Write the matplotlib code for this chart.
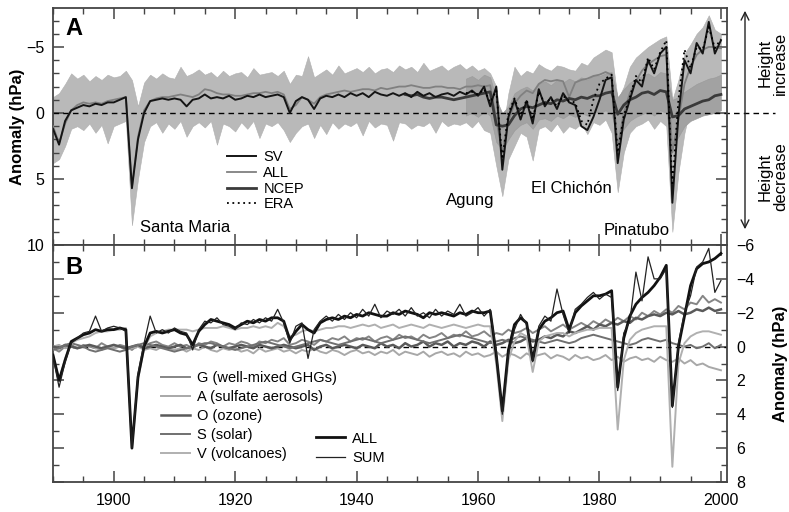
import numpy as np
import matplotlib
matplotlib.use('Agg')
import matplotlib.pyplot as plt
from matplotlib.ticker import MultipleLocator
from matplotlib.patches import FancyArrowPatch

plt.rcParams['font.family'] = ['Liberation Sans', 'DejaVu Sans']

# ---------------- data ----------------
years = np.arange(1890, 2001)
ncep_years = np.arange(1948, 2001)
era_years = np.arange(1958, 2001)

# Panel A
all_a = [1.0, 2.3, 0.8, -0.2, -0.6, -0.8, -0.7, -0.8, -0.7, -0.9,
         -1.0, -1.1, -1.2, 5.6, 1.8, -0.2, -0.9, -1.1, -1.2, -1.2,
         -1.3, -1.4, -1.3, -1.2, -1.4, -1.8, -1.7, -1.5, -1.4, -1.4,
         -1.3, -1.3, -1.4, -1.5, -1.5, -1.6, -1.5, -1.6, -1.4, -0.3,
         -0.6, -1.2, -1.0, -0.7, -1.2, -1.4, -1.5, -1.6, -1.7, -1.6,
         -1.7, -1.8, -1.8, -1.7, -1.9, -1.8, -1.9, -2.0, -2.0, -2.1,
         -2.0, -1.9, -1.9, -2.0, -2.0, -1.9, -1.9, -1.8, -2.0, -2.0,
         -2.1, -2.0, -2.1, 0.5, 3.0, 0.6, -0.7, -1.3, -1.7, -1.5,
         -2.2, -2.5, -2.4, -2.5, -2.4, -1.2, -2.3, -2.5, -2.6, -2.8,
         -2.9, -3.1, -2.9, 2.6, 0.0, -1.5, -2.4, -3.2, -3.7, -4.0,
         -4.3, -4.4, 3.0, 0.5, -2.2, -3.5, -4.4, -4.8, -5.0, -5.0,
         -4.9]
sv_a = [1.2, 2.4, 0.6, -0.2, -0.4, -0.6, -0.5, -0.7, -0.6, -0.8,
        -0.8, -1.0, -1.2, 5.7, 2.0, 0.0, -0.9, -1.0, -1.1, -1.0,
        -1.1, -1.0, -0.5, -1.0, -1.1, -1.4, -1.1, -1.2, -1.1, -1.3,
        -1.0, -1.1, -1.3, -1.2, -1.4, -1.2, -1.3, -1.4, -1.2, 0.0,
        -0.9, -1.2, -1.0, -0.3, -1.1, -1.3, -1.2, -1.4, -1.2, -1.5,
        -1.3, -1.5, -1.2, -1.6, -1.4, -1.3, -1.5, -1.3, -1.5, -1.2,
        -1.6, -1.3, -1.5, -1.2, -1.4, -1.5, -1.3, -1.6, -1.4, -1.7,
        -1.3, -2.0, -0.5, -2.0, 4.3, 0.3, -1.0, 0.5, -0.9, 0.8,
        -1.8, -0.5, -1.2, -0.3, -1.5, -0.8, -0.6, 1.0, 1.3, 0.3,
        -1.0, -2.5, -2.7, 3.8, 0.5, -1.0, -2.5, -2.0, -4.0, -3.0,
        -4.5, -5.0, 6.8, 0.2, -4.0, -3.0, -5.3, -4.5, -6.9, -4.5,
        -5.5]
ncep_a = [-1.4, -1.3,
          -1.4, -1.2, -1.1, -1.2, -1.2, -1.1, -1.0, -1.1, -1.2, -1.3,
          -1.4, -1.5, -1.6, 0.9, 1.0, 0.9, 0.2, -0.3, -0.5, -0.4,
          -0.6, -0.8, -0.7, -1.0, -0.9, -1.1, -1.0, -1.2, -1.1, -1.3,
          -1.3, -1.5, -1.6, 0.1, -0.6, -1.0, -1.2, -1.5, -1.6, -1.4,
          -1.7, -1.6, 0.3, 0.2, -0.3, -0.5, -0.7, -0.9, -1.0, -1.3,
          -1.4]
era_a = [-1.5, -1.6,
         -1.4, -1.8, -0.8, -1.7, 3.5, 0.0, -1.1, 0.2, -1.0, 0.5,
         -1.6, -0.7, -1.1, -0.5, -1.3, -0.9, -0.8, 0.6, 0.9, -1.0,
         -2.2, -2.6, -2.9, 3.0, 0.2, -1.2, -2.8, -2.3, -4.2, -3.3,
         -4.6, -5.5, 5.5, -1.0, -4.8, -3.4, -5.0, -4.8, -6.5, -4.9,
         -5.6]
# monthly-noise envelope (model) : upper (most negative) / lower (most positive)
noise_hi = [-1.2, -1.5, -2.2, -3.0, -2.6, -2.9, -2.4, -2.8, -2.5, -2.9,
            -2.7, -2.8, -3.2, -2.5, -0.5, -2.3, -2.9, -2.6, -3.0, -2.7,
            -2.6, -3.5, -2.8, -3.0, -3.3, -2.9, -3.1, -2.7, -3.2, -2.8,
            -3.0, -3.1, -2.7, -3.4, -2.9, -3.0, -3.1, -2.8, -3.2, -2.2,
            -2.9, -2.8, -4.3, -2.7, -3.0, -3.3, -2.9, -3.6, -3.0, -3.2,
            -3.4, -3.1, -3.5, -3.0, -3.3, -3.4, -3.1, -3.6, -3.3, -3.5,
            -3.1, -3.8, -3.2, -3.4, -3.6, -3.2, -3.5, -3.7, -3.3, -3.6,
            -3.2, -3.4, -3.0, -2.0, 1.5, -1.5, -3.5, -2.8, -3.2, -3.0,
            -3.7, -3.4, -3.2, -3.6, -3.5, -3.3, -3.2, -3.8, -3.6, -4.2,
            -4.5, -4.8, -4.6, -1.0, -2.0, -3.5, -4.2, -4.6, -5.0, -5.3,
            -5.6, -5.8, -1.0, -2.5, -4.5, -5.2, -6.0, -6.5, -7.4, -6.3,
            -6.0]
noise_lo = [3.8, 3.5, 2.5, 1.2, 1.0, 1.3, 0.8, 1.5, 0.9, 2.3,
            1.0, 0.8, 0.6, 8.5, 5.0, 2.2, 1.0, 0.7, 1.5, 0.8,
            1.2, 0.6, 1.8, 1.0, 0.7, 1.1, 0.6, 2.4, 0.8, 1.0,
            1.4, 0.7, 1.2, 0.6, 1.9, 0.8, 1.0, 0.7, 1.3, 2.2,
            1.5, 1.0, 0.8, 1.9, 0.9, 1.6, 0.7, 1.2, 0.8, 1.0,
            0.7, 1.7, 0.6, 1.1, 0.8, 0.9, 2.1, 0.7, 0.8, 1.2,
            0.9, 1.0, 0.7, 1.5, 0.6, 1.0, 0.8, 0.9, 0.7, 1.1,
            0.6, 1.3, 1.5, 4.0, 6.3, 3.5, 2.5, 1.5, 1.8, 3.6,
            1.2, 1.0, 1.4, 0.8, 1.5, 1.0, 1.2, 0.8, 1.6, 0.7,
            0.9, 0.5, 1.5, 6.0, 3.0, 1.5, 1.0, 0.8, 0.5, 1.2,
            0.6, 1.0, 9.0, 4.5, 1.5, -0.5, -1.2, -1.5, -1.3, -1.6,
            -1.4]
# observed (reanalysis) monthly-noise envelope
obs_hi = [-2.6, -2.8,
          -2.5, -2.9, -2.7, -1.0, 0.0, -0.5, -1.5, -1.8, -2.0, -1.7,
          -2.2, -2.4, -2.1, -2.5, -2.3, -2.6, -2.4, -2.7, -2.5, -2.9,
          -2.8, -3.0, -3.1, -1.2, -1.8, -2.3, -2.6, -2.8, -3.0, -2.7,
          -3.1, -3.0, -1.0, -1.2, -1.6, -1.9, -2.2, -2.4, -2.6, -2.7,
          -2.9]
obs_lo = [0.2, 0.0,
          0.3, -0.1, 0.2, 2.2, 2.8, 2.0, 1.3, 0.9, 0.7, 1.2,
          0.5, 0.4, 0.6, 0.2, 0.4, 0.1, 0.3, 0.0, 0.2, -0.1,
          0.0, -0.2, 0.1, 2.0, 1.2, 0.6, 0.3, 0.1, -0.1, 0.2,
          -0.2, 0.0, 2.5, 1.8, 1.0, 0.6, 0.4, 0.2, 0.1, 0.0,
          -0.2]

# Panel B
all_b = [0.5, 2.0, 0.8, -0.3, -0.5, -0.7, -0.8, -1.0, -0.9, -1.0,
         -1.0, -1.1, -1.0, 6.0, 1.8, 0.0, -0.8, -0.9, -0.8, -0.9,
         -1.0, -0.8, -0.7, -0.1, -0.9, -1.3, -1.6, -1.5, -1.4, -1.3,
         -1.1, -1.3, -1.5, -1.4, -1.6, -1.5, -1.7, -1.7, -1.5, -0.4,
         -0.9, -1.3, -1.0, -0.8, -1.4, -1.6, -1.7, -1.6, -1.8, -1.7,
         -1.9, -1.8, -2.0, -1.9, -1.8, -1.8, -2.0, -1.9, -2.1, -2.0,
         -1.9, -1.7, -2.0, -1.9, -2.0, -1.9, -1.8, -2.0, -1.9, -2.1,
         -2.0, -2.0, -2.1, 0.5, 3.8, 0.2, -1.3, -1.7, -1.4, 0.8,
         -1.0, -1.5, -1.7, -2.0, -2.1, -1.0, -2.0, -2.4, -2.7, -3.0,
         -3.0, -3.1, -3.3, 2.4, -0.5, -1.8, -2.5, -2.9, -3.2, -3.6,
         -4.1, -4.8, 3.5, 0.0, -1.8, -3.6, -4.6, -4.9, -5.0, -5.2,
         -5.5]
sum_b = [0.6, 2.4, 0.9, -0.2, -0.5, -0.8, -0.9, -1.8, -0.9, -1.1,
         -1.2, -1.1, -0.9, 6.0, 1.6, -0.2, -1.8, -0.8, -1.0, -0.8,
         -1.1, -0.9, -0.8, 0.2, -1.0, -1.5, -1.4, -1.7, -1.3, -1.2,
         -1.0, -1.4, -1.3, -1.6, -1.4, -1.7, -1.5, -2.2, -1.4, -0.2,
         -1.2, -1.4, 0.7, -1.0, -1.5, -1.8, -1.5, -1.9, -1.6, -2.0,
         -1.7, -2.2, -1.8, -2.5, -1.7, -2.1, -1.9, -2.2, -1.8, -2.3,
         -1.8, -2.0, -1.7, -2.2, -1.8, -2.1, -1.9, -2.5, -1.8, -2.0,
         -2.3, -1.8, -2.2, 0.3, 4.0, 0.5, -1.0, -1.9, -1.3, 0.9,
         -1.2, -1.8, -1.5, -3.4, -1.9, -0.8, -2.2, -2.5, -2.9, -3.2,
         -2.8, -3.1, -2.9, 2.6, -0.8, -1.5, -4.4, -2.7, -5.3, -4.0,
         -4.0, -4.6, 3.6, -0.2, -2.0, -3.0, -4.7, -5.0, -5.8, -3.2,
         -3.9]
v_b = [0.5, 2.0, 0.7, -0.2, -0.4, -0.5, -0.6, -0.8, -0.9, -0.9,
       -1.0, -1.0, -1.1, 6.0, 1.9, 0.1, -0.6, -0.8, -0.9, -1.0,
       -1.0, -1.0, -1.0, -0.9, -1.0, -1.1, -1.1, -1.1, -1.2, -1.1,
       -1.0, -1.1, -1.1, -1.2, -1.1, -1.2, -1.1, -1.4, -1.2, -0.6,
       -0.7, -0.9, -1.0, -0.9, -1.0, -1.1, -1.1, -1.2, -1.2, -1.1,
       -1.2, -1.3, -1.2, -1.3, -1.1, -1.2, -1.3, -1.1, -1.2, -1.3,
       -1.2, -1.1, -1.3, -1.2, -1.1, -1.2, -1.3, -1.2, -1.1, -1.2,
       -1.3, -1.2, -1.2, 1.0, 4.4, 0.8, -0.3, -0.8, -0.6, 1.5,
       -0.3, -0.6, -0.7, -0.8, -0.8, -0.6, -0.8, -0.9, -1.0, -1.0,
       -1.1, -1.1, -1.1, 4.9, 0.8, -0.4, -0.8, -1.0, -1.1, -1.2,
       -1.2, -1.2, 7.1, 1.0, -0.2, -0.6, -0.8, -0.9, -0.9, -0.8,
       -0.7]
g_b = [0.1, 0.3, 0.0, -0.1, 0.1, -0.1, 0.0, 0.1, -0.2, 0.0,
       0.1, -0.1, 0.0, 0.2, -0.1, 0.0, -0.2, -0.3, -0.1, 0.0,
       -0.2, 0.0, -0.1, 0.1, -0.2, -0.1, -0.3, -0.2, 0.0, -0.2,
       -0.1, -0.3, -0.2, 0.0, -0.3, -0.2, -0.4, -0.3, -0.5, -0.1,
       -0.2, -0.4, -0.3, -0.1, -0.4, -0.3, -0.5, -0.4, -0.6, -0.3,
       -0.5, -0.4, -0.6, -0.3, -0.5, -0.6, -0.4, -0.7, -0.5, -0.6,
       -0.4, -0.7, -0.5, -0.6, -0.8, -0.5, -0.7, -0.6, -0.9, -0.6,
       -0.7, -0.9, -0.6, -0.8, -0.7, -1.0, -0.8, -0.9, -1.1, -0.8,
       -1.0, -1.2, -0.9, -1.1, -1.3, -1.0, -1.2, -1.4, -1.2, -1.5,
       -1.3, -1.6, -1.4, -1.7, -1.5, -1.8, -1.6, -2.0, -1.8, -2.1,
       -1.9, -2.2, -2.0, -2.4, -2.2, -2.6, -2.5, -3.0, -2.6, -2.8,
       -2.6]
o_b = [0.0, 0.1, -0.1, 0.0, 0.1, 0.0, -0.1, 0.0, 0.1, 0.0,
       -0.1, 0.0, 0.1, 0.0, -0.1, 0.1, 0.0, -0.1, 0.0, 0.1,
       0.0, -0.1, 0.1, 0.0, -0.1, 0.0, 0.1, -0.1, 0.0, 0.1,
       0.0, -0.1, 0.0, 0.1, -0.1, 0.0, 0.1, 0.0, -0.1, 0.0,
       0.1, 0.0, -0.1, 0.2, 0.0, -0.1, 0.1, 0.0, -0.1, 0.0,
       0.1, -0.1, 0.0, 0.1, -0.2, 0.0, -0.1, 0.1, -0.2, 0.0,
       -0.1, -0.3, 0.0, -0.2, -0.1, -0.3, 0.0, -0.2, -0.1, -0.3,
       -0.2, 0.0, -0.3, -0.1, -0.2, -0.4, -0.2, -0.3, -0.5, -0.3,
       -0.4, -0.6, -0.5, -0.7, -0.6, -0.9, -0.8, -1.0, -1.2, -1.0,
       -1.3, -1.2, -1.4, -1.3, -1.5, -1.4, -1.7, -1.6, -1.8, -1.9,
       -1.8, -2.0, -1.9, -2.1, -1.9, -2.0, -2.2, -2.1, -2.3, -2.1,
       -2.2]
s_b = [0.2, 0.1, -0.1, -0.2, -0.1, 0.0, 0.2, 0.3, 0.2, 0.1,
       0.2, 0.3, 0.2, 0.0, -0.1, -0.2, -0.1, 0.0, 0.1, 0.2,
       0.3, 0.2, 0.1, 0.0, -0.1, -0.2, -0.2, -0.1, 0.0, 0.1,
       0.2, 0.1, 0.0, -0.1, -0.2, -0.3, -0.2, -0.1, 0.0, 0.1,
       0.0, -0.1, -0.2, -0.3, -0.4, -0.3, -0.2, -0.1, -0.2, -0.3,
       -0.4, -0.5, -0.4, -0.3, -0.2, -0.3, -0.4, -0.5, -0.6, -0.5,
       -0.4, -0.3, -0.2, -0.3, -0.4, -0.5, -0.6, -0.7, -0.6, -0.5,
       -0.4, -0.3, -0.2, -0.3, -0.4, -0.3, -0.5, -0.6, -0.5, -0.4,
       -0.3, -0.2, -0.3, -0.4, -0.3, -0.2, -0.3, -0.5, -0.6, -0.7,
       -0.6, -0.5, -0.4, -0.3, -0.2, -0.1, -0.2, -0.4, -0.5, -0.4,
       -0.3, -0.4, -0.2, -0.1, 0.0, -0.1, 0.1, 0.0, -0.2, 0.1,
       -0.1]
a_b = [0.0, -0.1, 0.1, 0.0, 0.1, 0.0, -0.1, 0.1, 0.2, 0.0,
       0.1, 0.0, 0.2, 0.1, 0.0, 0.2, 0.1, 0.2, 0.0, 0.1,
       0.2, 0.1, 0.3, 0.1, 0.2, 0.0, 0.2, 0.3, 0.1, 0.2,
       0.1, 0.3, 0.2, 0.4, 0.1, 0.3, 0.2, 0.1, 0.3, 0.2,
       0.4, 0.2, 0.3, 0.1, 0.3, 0.4, 0.2, 0.3, 0.5, 0.3,
       0.2, 0.4, 0.3, 0.5, 0.3, 0.4, 0.2, 0.5, 0.3, 0.4,
       0.5, 0.3, 0.6, 0.4, 0.3, 0.5, 0.4, 0.6, 0.3, 0.5,
       0.4, 0.6, 0.5, 0.3, 0.6, 0.4, 0.5, 0.7, 0.4, 0.6,
       0.5, 0.4, 0.7, 0.5, 0.6, 0.8, 0.5, 0.7, 0.6, 0.8,
       0.7, 0.5, 0.8, 0.6, 0.9, 0.7, 0.6, 0.8, 0.7, 0.9,
       0.6, 0.8, 0.9, 0.7, 1.0, 0.8, 1.1, 1.0, 1.2, 1.3,
       1.4]

legend_a = ['SV', 'ALL', 'NCEP', 'ERA']
legend_b = ['G (well-mixed GHGs)', 'A (sulfate aerosols)', 'O (ozone)',
            'S (solar)', 'V (volcanoes)']
legend_b2 = ['ALL', 'SUM']
volcanoes = ['Santa Maria', 'Agung', 'El Chichón', 'Pinatubo']

# ---------------- figure ----------------
W, H = 789, 512
fig = plt.figure(figsize=(W / 100, H / 100), dpi=100)
x0, x1 = 53 / W, 727 / W
axA = fig.add_axes([x0, 1 - 245 / H, x1 - x0, (245 - 8) / H])
axB = fig.add_axes([x0, 1 - 482 / H, x1 - x0, (482 - 245) / H])

frame_c = '#444444'
for ax in (axA, axB):
    ax.set_xlim(1890, 2001)
    ax.xaxis.set_major_locator(MultipleLocator(20))
    ax.xaxis.set_minor_locator(MultipleLocator(5))
    ax.yaxis.set_minor_locator(MultipleLocator(1))
    ax.tick_params(which='both', direction='in', top=True, right=True,
                   color=frame_c, labelsize=11.5)
    ax.tick_params(which='major', length=8, width=1.1)
    ax.tick_params(which='minor', length=4, width=1.0)
    for s in ax.spines.values():
        s.set_color(frame_c)
        s.set_linewidth(1.3)

# ---- Panel A ----
axA.set_ylim(10, -7.95)
axA.yaxis.set_major_locator(MultipleLocator(5))
axA.tick_params(labelbottom=False, pad=6)
axA.fill_between(years, noise_hi, noise_lo, color='#b9b9b9', lw=0.4,
                 edgecolor='#b0b0b0', zorder=1)
axA.fill_between(era_years, obs_hi, obs_lo, color='#a2a2a2', lw=0.4,
                 edgecolor='#9a9a9a', zorder=1.5)
axA.axhline(0, xmin=0, xmax=1.071, color='black', lw=1.0, ls=(0, (4, 3)),
            clip_on=False, zorder=2)
l_all, = axA.plot(years, all_a, color='#808080', lw=1.3, zorder=3)
l_ncep, = axA.plot(ncep_years, ncep_a, color='#3a3a3a', lw=2.0, zorder=4)
l_sv, = axA.plot(years, sv_a, color='#151515', lw=1.4, zorder=5)
l_era, = axA.plot(era_years, era_a, color='black', lw=1.3, ls=(0, (1, 2)), zorder=6)
axA.set_ylabel('Anomaly (hPa)', fontsize=12, fontweight='bold', labelpad=1)
axA.text(0.018, 0.96, 'A', transform=axA.transAxes, fontsize=17,
         fontweight='bold', va='top', ha='left')
axA.legend([l_sv, l_all, l_ncep, l_era], legend_a, loc='upper left',
           bbox_to_anchor=(0.258, 0.40), frameon=False, fontsize=10.5,
           handlelength=2.0, handletextpad=0.5, labelspacing=0.12,
           borderpad=0, borderaxespad=0)
axA.text(1904.3, 8.7, volcanoes[0], fontsize=12, ha='left', va='center')
axA.text(1962.7, 6.6, volcanoes[1], fontsize=12, ha='right', va='center')
axA.text(1982.1, 5.7, volcanoes[2], fontsize=12, ha='right', va='center')
axA.text(1991.5, 8.9, volcanoes[3], fontsize=12, ha='right', va='center')

# right-hand arrow and labels
arr = FancyArrowPatch((745 / W, 1 - 232 / H), (745 / W, 1 - 8 / H),
                      transform=fig.transFigure, arrowstyle='<->',
                      mutation_scale=14, lw=1.0, color='#222222')
fig.add_artist(arr)
fig.text(773 / W, 1 - 63 / H, 'Height\nincrease', rotation=90, ha='center',
         va='center', fontsize=12, linespacing=1.05, multialignment='center')
fig.text(773 / W, 1 - 177 / H, 'Height\ndecrease', rotation=90, ha='center',
         va='center', fontsize=12, linespacing=1.05, multialignment='center')

# ---- Panel B ----
axB.set_ylim(8.0, -6.0)
axB.yaxis.set_major_locator(MultipleLocator(2))
axB.tick_params(labelleft=False, labelright=True)
axB.tick_params(axis='y', pad=7)
axB.tick_params(axis='x', pad=8)
axB.axhline(0, color='black', lw=1.0, ls=(0, (4, 3)), zorder=2)
l_g, = axB.plot(years, g_b, color='#858585', lw=1.4, zorder=3)
l_a, = axB.plot(years, a_b, color='#a8a8a8', lw=1.4, zorder=3)
l_o, = axB.plot(years, o_b, color='#5a5a5a', lw=1.8, zorder=3)
l_s, = axB.plot(years, s_b, color='#707070', lw=1.4, zorder=3)
l_v, = axB.plot(years, v_b, color='#b0b0b0', lw=1.4, zorder=3.5)
l_allb, = axB.plot(years, all_b, color='#111111', lw=2.0, zorder=5)
l_sum, = axB.plot(years, sum_b, color='#222222', lw=0.9, zorder=6)
axB.yaxis.set_label_position('right')
axB.set_ylabel('Anomaly (hPa)', fontsize=12, fontweight='bold', labelpad=13)
axB.text(0.018, 0.955, 'B', transform=axB.transAxes, fontsize=17,
         fontweight='bold', va='top', ha='left')
legB = axB.legend([l_g, l_a, l_o, l_s, l_v], legend_b, loc='upper left',
                  bbox_to_anchor=(0.16, 0.47), frameon=False, fontsize=10.5,
                  handlelength=2.0, handletextpad=0.5, labelspacing=0.35,
                  borderpad=0, borderaxespad=0)
axB.add_artist(legB)
axB.legend([l_allb, l_sum], legend_b2, loc='upper left',
           bbox_to_anchor=(0.39, 0.213), frameon=False, fontsize=10.5,
           handlelength=2.0, handletextpad=0.5, labelspacing=0.35,
           borderpad=0, borderaxespad=0)

fig.savefig('out.png', dpi=100)
